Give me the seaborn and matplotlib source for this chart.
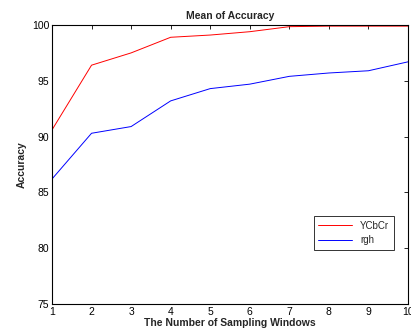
import pandas as pd
import matplotlib
matplotlib.use("Agg")
import matplotlib.pyplot as plt
import seaborn as sns

windows = [1, 2, 3, 4, 5, 6, 7, 8, 9, 10]
ycbcr = [90.6, 96.4, 97.5, 98.9, 99.1, 99.4, 99.85, 99.9, 99.9, 99.9]
rgh = [86.2, 90.3, 90.9, 93.2, 94.3, 94.7, 95.4, 95.7, 95.9, 96.7]

df = pd.concat([
    pd.DataFrame({"window": windows, "acc": ycbcr, "space": "YCbCr"}),
    pd.DataFrame({"window": windows, "acc": rgh, "space": "rgh"}),
])

sns.set_style("white")
plt.rcParams["font.family"] = ["Liberation Sans", "DejaVu Sans"]

fig = plt.figure(figsize=(4.11, 3.36), dpi=100)
ax = fig.add_axes([0.1265, 0.0952, 0.8662, 0.8304])

sns.lineplot(data=df, x="window", y="acc", hue="space",
             palette={"YCbCr": "#ff0000", "rgh": "#0000ff"},
             linewidth=0.7, ax=ax)

ax.set_xlim(1, 10)
ax.set_ylim(75, 100)
ax.set_xticks(windows)
ax.set_yticks([75, 80, 85, 90, 95, 100])
ax.tick_params(direction="in", length=3, width=0.6, labelsize=7.5,
               top=True, right=True, pad=2, colors="black")
for s in ax.spines.values():
    s.set_color("black")
    s.set_linewidth(0.8)

ax.set_title("Mean of Accuracy", fontsize=7.5, fontweight="bold", pad=4)
ax.set_xlabel("The Number of Sampling Windows", fontsize=7.5, fontweight="bold", labelpad=1)
ax.set_ylabel("Accuracy", fontsize=7.5, fontweight="bold", labelpad=4)

leg = ax.legend(loc="lower right", bbox_to_anchor=(0.975, 0.175), fontsize=7,
                frameon=True, fancybox=False, edgecolor="black",
                handlelength=3.5, borderpad=0.5, labelspacing=0.5)
leg.get_frame().set_linewidth(0.7)

fig.savefig("out.png", dpi=100)
